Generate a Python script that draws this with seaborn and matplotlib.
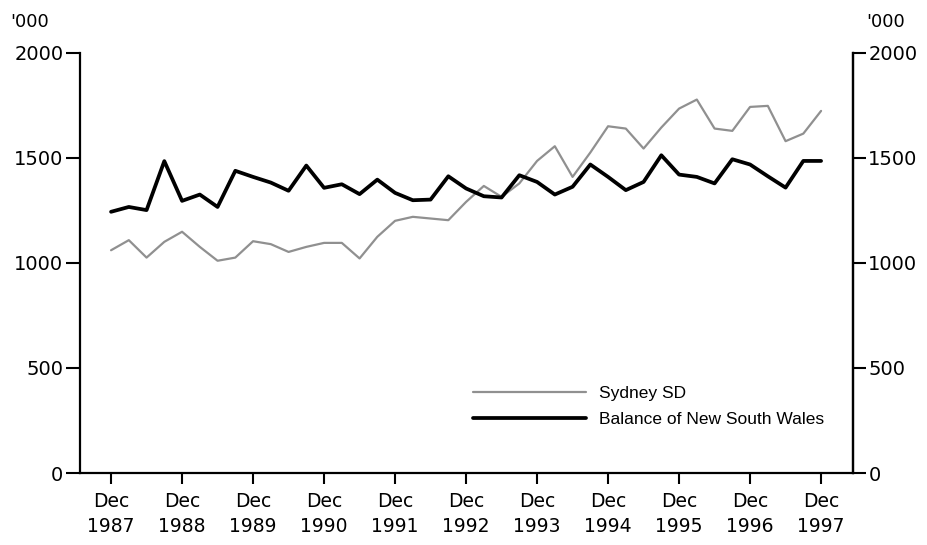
import numpy as np
import pandas as pd
import matplotlib.pyplot as plt
import seaborn as sns

# Quarterly series, Dec 1987 to Dec 1997 ('000)
quarters = pd.period_range("1987Q4", "1997Q4", freq="Q")
sydney = [1060, 1108, 1025, 1100, 1148, 1076, 1010, 1025, 1103, 1089,
          1052, 1076, 1095, 1095, 1021, 1124, 1200, 1219, 1211, 1203,
          1290, 1366, 1314, 1378, 1485, 1555, 1409, 1525, 1650, 1639,
          1544, 1644, 1734, 1777, 1639, 1628, 1742, 1747, 1579, 1615, 1723]
balance = [1243, 1266, 1251, 1484, 1295, 1325, 1266, 1438, 1409, 1382,
           1343, 1463, 1357, 1374, 1327, 1396, 1333, 1298, 1301, 1412,
           1354, 1317, 1311, 1417, 1385, 1325, 1362, 1468, 1409, 1346,
           1385, 1512, 1420, 1409, 1378, 1493, 1468, 1412, 1358, 1485, 1485]
tick_labels = ["Dec\n1987", "Dec\n1988", "Dec\n1989", "Dec\n1990", "Dec\n1991",
               "Dec\n1992", "Dec\n1993", "Dec\n1994", "Dec\n1995", "Dec\n1996",
               "Dec\n1997"]
y_ticks = [0, 500, 1000, 1500, 2000]

df = pd.DataFrame({"q": np.arange(len(quarters)),
                   "Sydney SD": sydney,
                   "Balance of New South Wales": balance})

sns.set_style("ticks", {"axes.edgecolor": "black", "text.color": "black",
                        "xtick.color": "black", "ytick.color": "black"})
plt.rcParams["font.family"] = ["DejaVu Sans"]

fig = plt.figure(figsize=(9.27, 5.45), dpi=100)
ax = fig.add_axes([0.0863, 0.1321, 0.8339, 0.7712])

sns.lineplot(data=df, x="q", y="Sydney SD", ax=ax, color="#909090",
             linewidth=1.6, label="Sydney SD")
sns.lineplot(data=df, x="q", y="Balance of New South Wales", ax=ax,
             color="black", linewidth=2.7, label="Balance of New South Wales")

ax.set_xlim(-1.75, 41.8)
ax.set_ylim(0, 2000)
ax.set_xlabel("")
ax.set_ylabel("")
ax.set_xticks(df["q"].values[::4])
ax.set_xticklabels(tick_labels, fontsize=13.5, linespacing=1.35)
ax.set_yticks(y_ticks)
ax.set_yticklabels([str(v) for v in y_ticks], fontsize=14)
ax.tick_params(axis="x", direction="out", length=8, width=1.5, pad=6)
ax.tick_params(axis="y", direction="out", length=10, width=1.5, pad=2)
for side in ["left", "bottom", "right"]:
    ax.spines[side].set_linewidth(1.6)
ax.spines["top"].set_visible(False)

ax2 = ax.twinx()
ax2.set_ylim(0, 2000)
ax2.set_yticks(y_ticks)
ax2.set_yticklabels([str(v) for v in y_ticks], fontsize=14)
ax2.tick_params(axis="y", direction="out", length=9, width=1.5, pad=2)
ax2.spines["right"].set_linewidth(1.6)
ax2.spines["top"].set_visible(False)
ax2.spines["left"].set_visible(False)
ax2.spines["bottom"].set_visible(False)

fig.text(30 / 927, 1 - 22 / 545, "'000", fontsize=13, ha="center", va="center")
fig.text(886 / 927, 1 - 22 / 545, "'000", fontsize=13, ha="center", va="center")

ax.legend(loc="center left", bbox_to_anchor=(0.508, 0.158), frameon=False,
          borderpad=0, borderaxespad=0, handlelength=6.5, handletextpad=0.8,
          labelspacing=0.65, prop={"family": "Liberation Sans", "size": 12.5})

fig.savefig("out.png", dpi=100)
